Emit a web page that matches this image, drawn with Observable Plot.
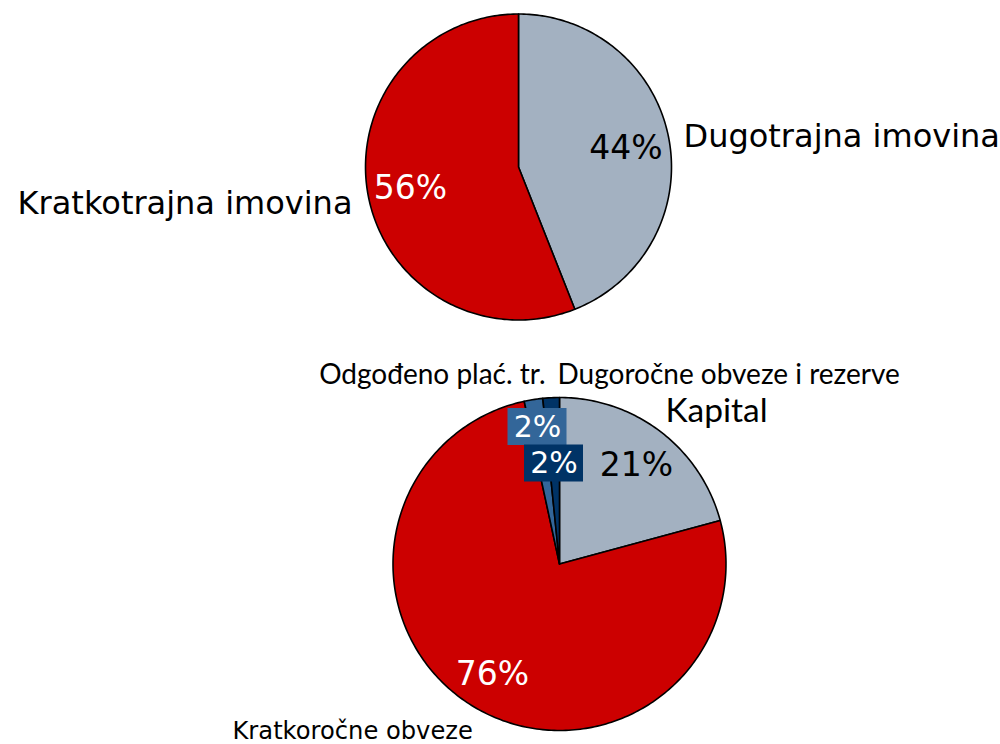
<!DOCTYPE html>
<html>
<head>
<meta charset="utf-8">
<script src="https://cdn.jsdelivr.net/npm/d3@7"></script>
<script src="https://cdn.jsdelivr.net/npm/@observablehq/plot@0.6"></script>
<style>
  html, body { margin: 0; padding: 0; background: #fff; }
  #chart svg { display: block; }
</style>
</head>
<body>
<div id="chart"></div>
<script>
// ---- data ----
const assetCategories = ["Dugotrajna imovina", "Kratkotrajna imovina"];
const assetValues = [44, 56];
const assetLabels = ["44%", "56%"];

const liabilityCategories = ["Kapital", "Kratkoročne obveze", "Odgođeno plać. tr.", "Dugoročne obveze i rezerve"];
const liabilityValues = [20.8, 75.8, 1.8, 1.6];
const liabilityLabels = ["21%", "76%", "2%", "2%"];

// ---- styles ----
const assetColors = ["#a3b1c1", "#cc0000"];
const liabilityColors = ["#a3b1c1", "#cc0000", "#336699", "#003366"];
const W = 1000, H = 744;
const VERD = "DejaVu Sans, Verdana, sans-serif";
const CALI = "Lato, Carlito, sans-serif";

// ---- layout ----
const pies = [
  {cats: assetCategories, vals: assetValues, colors: assetColors, cx: 518, cy: 166.5, r: 153},
  {cats: liabilityCategories, vals: liabilityValues, colors: liabilityColors, cx: 559, cy: 563.5, r: 166.5}
];

// build slice polygons from values
function slicePoints(p) {
  const total = d3.sum(p.vals);
  const pts = [];
  let start = 0;
  p.vals.forEach((v, i) => {
    const a0 = start / total * 2 * Math.PI;
    const a1 = (start + v) / total * 2 * Math.PI;
    start += v;
    const key = p.cats[i];
    pts.push({key, x: p.cx, y: p.cy});
    const n = Math.max(2, Math.ceil((a1 - a0) / (Math.PI / 180)));
    for (let k = 0; k <= n; k++) {
      const a = a0 + (a1 - a0) * k / n;
      pts.push({key, x: p.cx + p.r * Math.sin(a), y: p.cy - p.r * Math.cos(a)});
    }
  });
  return pts;
}

const marks = [];
pies.forEach((p) => {
  const pts = slicePoints(p);
  p.cats.forEach((c, i) => {
    marks.push(Plot.line(pts.filter(d => d.key === c), {
      x: "x", y: "y", fill: p.colors[i], stroke: "#000", strokeWidth: 1.6,
      curve: "linear-closed", strokeLinejoin: "round"
    }));
  });
});

// label placement (layout)
const pctTexts = [
  {t: assetLabels[0], x: 625.5, y: 148, fill: "#000"},
  {t: assetLabels[1], x: 410, y: 188, fill: "#fff"},
  {t: liabilityLabels[0], x: 636, y: 465, fill: "#000"},
  {t: liabilityLabels[1], x: 492, y: 674, fill: "#fff"},
];
const boxTexts = [
  {t: liabilityLabels[2], x: 537, y: 426.5, fill: liabilityColors[2]},
  {t: liabilityLabels[3], x: 553.5, y: 463, fill: liabilityColors[3]},
];
const catTexts = [
  {t: assetCategories[0], x: 683, y: 136, anchor: "start", size: 32, font: VERD},
  {t: assetCategories[1], x: 352, y: 203, anchor: "end", size: 32, font: VERD},
  {t: liabilityCategories[0], x: 665, y: 411, anchor: "start", size: 33.5, font: CALI},
  {t: liabilityCategories[2], x: 545, y: 375, anchor: "end", size: 28, font: CALI},
  {t: liabilityCategories[3], x: 557, y: 375, anchor: "start", size: 28, font: CALI},
  {t: liabilityCategories[1], x: 232, y: 731, anchor: "start", size: 24.2, font: VERD},
];

marks.push(Plot.rect(boxTexts, {
  x1: d => d.x - 29.5, x2: d => d.x + 29.5, y1: d => d.y - 18.5, y2: d => d.y + 18.5, fill: d => d.fill
}));
marks.push(Plot.text(boxTexts, {x: "x", y: "y", text: "t", fill: "#fff", fontSize: 30, fontFamily: VERD, textAnchor: "middle", lineAnchor: "middle"}));
marks.push(Plot.text(pctTexts, {x: "x", y: "y", text: "t", fill: d => d.fill, fontSize: 33, fontFamily: VERD, textAnchor: "middle", lineAnchor: "middle"}));
catTexts.forEach(d => {
  marks.push(Plot.text([d], {x: "x", y: "y", text: "t", fill: "#000", fontSize: d.size, fontFamily: d.font, textAnchor: d.anchor, lineAnchor: "middle"}));
});

const chart = Plot.plot({
  width: W, height: H,
  margin: 0,
  x: {domain: [0, W], axis: null},
  y: {domain: [H, 0], axis: null},
  color: {type: "identity"},
  style: {background: "#fff"},
  marks
});
document.getElementById("chart").appendChild(chart);
</script>
</body>
</html>
